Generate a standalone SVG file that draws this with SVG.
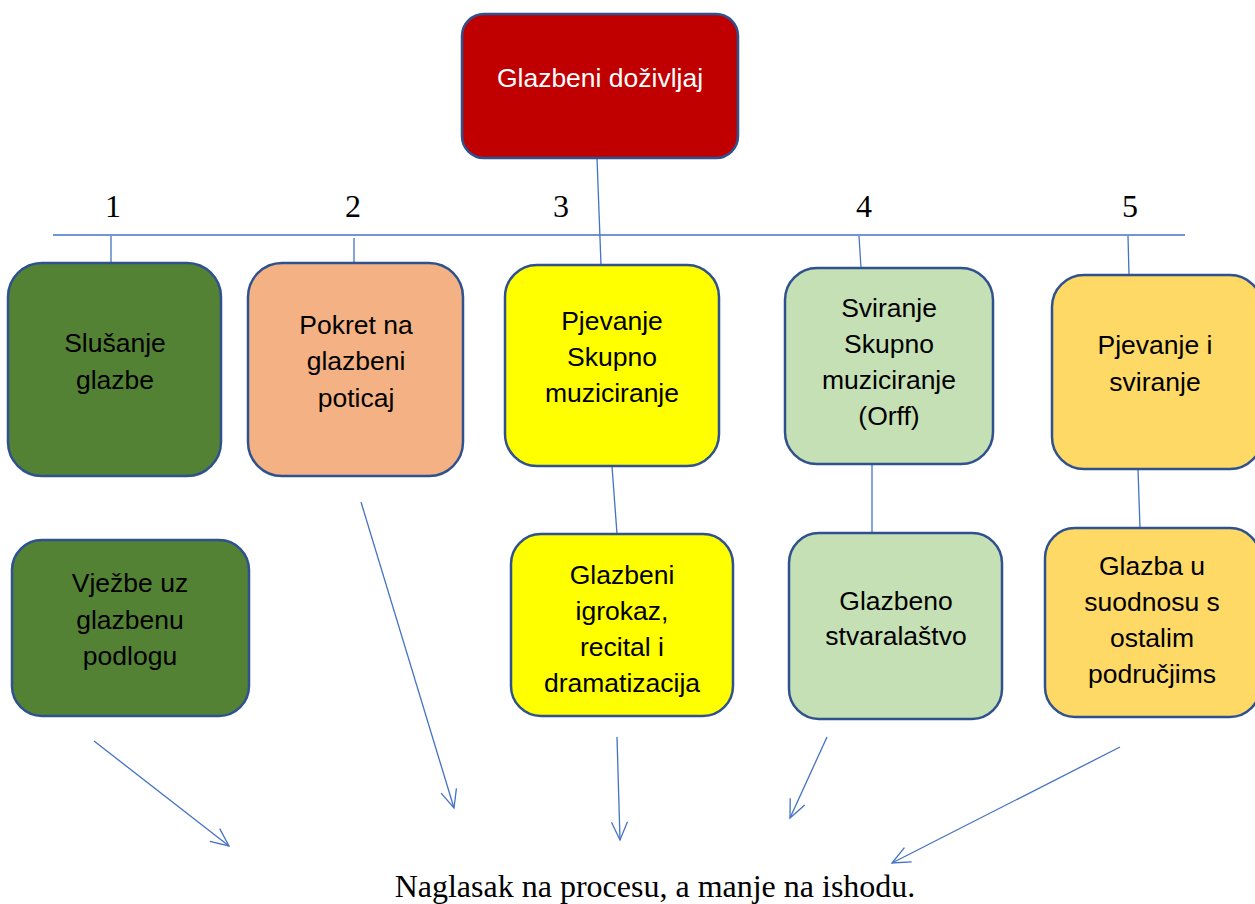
<svg xmlns="http://www.w3.org/2000/svg" width="1255" height="904" viewBox="0 0 1255 904">
<style>
.box{stroke:#2F528F;stroke-width:2.5}
.t{font-family:"Liberation Sans",Arial,sans-serif;font-size:26.5px;fill:#000;text-anchor:middle}
.num{font-family:"Liberation Serif","Times New Roman",serif;font-size:32px;fill:#000;text-anchor:middle}
.ln{stroke:#4472C4;stroke-width:1.3;fill:none}
.ar{stroke:#4472C4;stroke-width:1.3;fill:none;marker-end:url(#v)}
</style>
<defs>
<marker id="v" markerUnits="userSpaceOnUse" markerWidth="24" markerHeight="24" viewBox="-20 -12 24 24" refX="0" refY="0" orient="auto" overflow="visible">
<path d="M-18,-8 L0,0 L-18,8" fill="none" stroke="#4472C4" stroke-width="1.3"/>
</marker>
</defs>
<rect width="1255" height="904" fill="#fff"/>
<g id="connectors">
<line class="ln" x1="597" y1="158" x2="601" y2="265"/>
<line class="ln" x1="53" y1="235" x2="1185" y2="235"/>
<line class="ln" x1="111" y1="236" x2="111" y2="263"/>
<line class="ln" x1="354" y1="238" x2="354" y2="263"/>
<line class="ln" x1="859" y1="236" x2="861" y2="268"/>
<line class="ln" x1="1128" y1="236" x2="1129" y2="275"/>
<line class="ln" x1="612" y1="466" x2="617" y2="534"/>
<line class="ln" x1="872" y1="464" x2="872" y2="533"/>
<line class="ln" x1="1138" y1="469" x2="1140" y2="528"/>
<line class="ar" x1="94" y1="741" x2="229" y2="846"/>
<line class="ar" x1="361" y1="502" x2="454" y2="808"/>
<line class="ar" x1="617" y1="737" x2="620" y2="840"/>
<line class="ar" x1="827" y1="737" x2="790" y2="818"/>
<line class="ar" x1="1120" y1="747" x2="892" y2="863"/>
</g>
<g id="numbers">
<text class="num" x="113" y="217">1</text>
<text class="num" x="353" y="217">2</text>
<text class="num" x="561" y="217">3</text>
<text class="num" x="864" y="217">4</text>
<text class="num" x="1130" y="217">5</text>
</g>
<g id="root">
<rect class="box" x="462" y="14" width="276" height="144" rx="22" fill="#C00000"/>
<text class="t" x="600" y="87" style="fill:#fff">Glazbeni doživljaj</text>
</g>
<g id="n1">
<rect class="box" x="8" y="263" width="213" height="213" rx="34" fill="#548235"/>
<text class="t" x="115" y="352">Slušanje</text>
<text class="t" x="115" y="389">glazbe</text>
</g>
<g id="n2">
<rect class="box" x="248" y="263" width="215" height="213" rx="34" fill="#F4B183"/>
<text class="t" x="356" y="334">Pokret na</text>
<text class="t" x="356" y="370">glazbeni</text>
<text class="t" x="356" y="407">poticaj</text>
</g>
<g id="n3">
<rect class="box" x="505" y="265" width="214" height="201" rx="32" fill="#FFFF00"/>
<text class="t" x="612" y="330">Pjevanje</text>
<text class="t" x="612" y="366">Skupno</text>
<text class="t" x="612" y="402">muziciranje</text>
</g>
<g id="n4">
<rect class="box" x="785" y="268" width="208" height="196" rx="32" fill="#C5E0B4"/>
<text class="t" x="889" y="317">Sviranje</text>
<text class="t" x="889" y="353">Skupno</text>
<text class="t" x="889" y="389">muziciranje</text>
<text class="t" x="889" y="425">(Orff)</text>
</g>
<g id="n5">
<rect class="box" x="1052" y="275" width="210" height="194" rx="32" fill="#FFD966"/>
<text class="t" x="1155" y="354">Pjevanje i</text>
<text class="t" x="1155" y="391">sviranje</text>
</g>
<g id="n6">
<rect class="box" x="12" y="540" width="237" height="176" rx="30" fill="#548235"/>
<text class="t" x="130" y="592">Vježbe uz</text>
<text class="t" x="130" y="629">glazbenu</text>
<text class="t" x="130" y="665">podlogu</text>
</g>
<g id="n7">
<rect class="box" x="511" y="534" width="222" height="182" rx="30" fill="#FFFF00"/>
<text class="t" x="622" y="584">Glazbeni</text>
<text class="t" x="622" y="620">igrokaz,</text>
<text class="t" x="622" y="656">recital i</text>
<text class="t" x="622" y="692">dramatizacija</text>
</g>
<g id="n8">
<rect class="box" x="789" y="533" width="213" height="186" rx="30" fill="#C5E0B4"/>
<text class="t" x="896" y="610">Glazbeno</text>
<text class="t" x="896" y="645">stvaralaštvo</text>
</g>
<g id="n9">
<rect class="box" x="1045" y="528" width="215" height="189" rx="30" fill="#FFD966"/>
<text class="t" x="1152" y="575">Glazba u</text>
<text class="t" x="1152" y="611">suodnosu s</text>
<text class="t" x="1152" y="647">ostalim</text>
<text class="t" x="1152" y="683">područjims</text>
</g>
<text class="num" x="655" y="897">Naglasak na procesu, a manje na ishodu.</text>
</svg>
